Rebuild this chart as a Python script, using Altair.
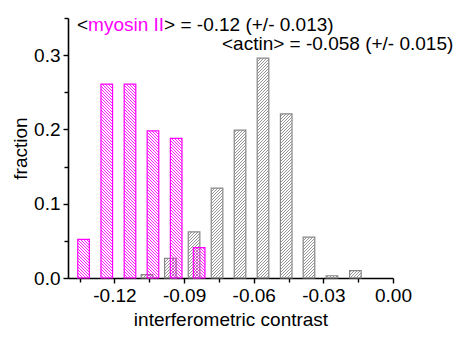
import math
import numpy as np
import pandas as pd
import altair as alt

# ---------------- data ----------------
myosin_x = [-0.1333, -0.1233, -0.1133, -0.1034, -0.0934, -0.0835]
myosin_f = [0.052, 0.261, 0.261, 0.198, 0.188, 0.041]
actin_x = [-0.1060, -0.0959, -0.0857, -0.0758, -0.0659, -0.0560, -0.0460, -0.0362, -0.0263, -0.0162]
actin_f = [0.0045, 0.0265, 0.062, 0.121, 0.199, 0.296, 0.221, 0.055, 0.003, 0.0098]

x_ticks = [-0.135, -0.12, -0.105, -0.09, -0.075, -0.06, -0.045, -0.03, -0.015, 0.0]
y_ticks = [0.0, 0.05, 0.1, 0.15, 0.2, 0.25, 0.3, 0.35]

label_lt = "<"
label_myosin = "myosin II"
label_myosin_rest = "> = -0.12 (+/- 0.013)"
label_actin = "<actin> = -0.058 (+/- 0.015)"
x_title = "interferometric contrast"
y_title = "fraction"

# ---------------- layout / style ----------------
W, H = 325, 260
XMIN, XMAX, YMAX = -0.14, 0.0, 0.35
BW = 0.005          # drawn bar width (data units)
SX = W / (XMAX - XMIN)
SY = H / YMAX
D = 3.0             # hatch spacing (px)
MAG = "#ff00ff"
GRAY = "#888888"
FONT = "Liberation Sans"
FS = 19


def bars_df(xs, fs):
    return pd.DataFrame({
        "xa": [c - BW / 2 for c in xs],
        "xb": [c + BW / 2 for c in xs],
        "ya": [0.0] * len(xs),
        "yb": fs,
    })


def hatch_df(xs, fs, direction):
    rows = []
    for c, v in zip(xs, fs):
        x0 = (c - BW / 2 - XMIN) * SX
        x1 = (c + BW / 2 - XMIN) * SX
        h = v * SY
        if direction == "/":
            kmin, kmax = math.floor((x0 - h) / D), math.ceil(x1 / D)
            for k in range(kmin, kmax + 1):
                a = k * D
                xl, xu = max(x0, a), min(x1, a + h)
                if xu - xl > 0.05:
                    rows.append((xl, xl - a, xu, xu - a))
        else:
            kmin, kmax = math.floor(x0 / D), math.ceil((x1 + h) / D)
            for k in range(kmin, kmax + 1):
                a = k * D
                xl, xu = max(x0, a - h), min(x1, a)
                if xu - xl > 0.05:
                    rows.append((xl, a - xl, xu, a - xu))
    arr = np.array(rows)
    return pd.DataFrame({
        "xa": XMIN + arr[:, 0] / SX,
        "ya": arr[:, 1] / SY,
        "xb": XMIN + arr[:, 2] / SX,
        "yb": arr[:, 3] / SY,
    })


x_axis = alt.Axis(
    values=x_ticks,
    labelExpr="abs(round(datum.value*1000)) % 30 == 0 ? ((datum.value < 0 ? '-' : '') + format(abs(datum.value), '.2f')) : ''",
    title=x_title, titleX=W / 2, titleY=47, titleBaseline="alphabetic", titleAlign="center",
    tickSize={"condition": {"test": "abs(round(datum.value*1000)) % 30 == 0", "value": 5}, "value": 4},
    labelPadding=3, labelFlush=False, labelOverlap=False, grid=False,
)
y_axis = alt.Axis(
    values=y_ticks,
    labelExpr="abs(round(datum.value*100)) % 10 == 0 ? format(datum.value, '.1f') : ''",
    title=y_title, titleX=-42, titleY=H / 2, titleAngle=270, titleBaseline="alphabetic",
    titleAlign="center",
    tickSize={"condition": {"test": "abs(round(datum.value*100)) % 10 == 0", "value": 5}, "value": 4},
    labelPadding=3, labelFlush=False, labelOverlap=False, grid=False,
)

xs = alt.Scale(domain=[XMIN, XMAX], nice=False, zero=False)
ys = alt.Scale(domain=[0, YMAX], nice=False, zero=False)


def enc(ch):
    return ch.encode(
        x=alt.X("xa:Q", scale=xs, axis=x_axis),
        x2="xb:Q",
        y=alt.Y("ya:Q", scale=ys, axis=y_axis),
        y2="yb:Q",
    )


actin_hatch = enc(alt.Chart(hatch_df(actin_x, actin_f, "/")).mark_rule(color=GRAY, strokeWidth=0.9))
actin_bars = enc(alt.Chart(bars_df(actin_x, actin_f)).mark_rect(fillOpacity=0, stroke=GRAY, strokeWidth=1.2))
myo_hatch = enc(alt.Chart(hatch_df(myosin_x, myosin_f, "\\")).mark_rule(color=MAG, strokeWidth=0.9))
myo_bars = enc(alt.Chart(bars_df(myosin_x, myosin_f)).mark_rect(fillOpacity=0, stroke=MAG, strokeWidth=1.2))


def txt(s, px, py, color):
    return alt.Chart(pd.DataFrame({"t": [s]})).mark_text(
        align="left", baseline="alphabetic", font=FONT, fontSize=FS, color=color
    ).encode(text="t:N", x=alt.value(px), y=alt.value(py))


t1 = txt(label_lt, 9, 13, "black")
t2 = txt(label_myosin, 9 + 0.584 * FS, 13, MAG)
t3 = txt(label_myosin_rest, 9 + 0.584 * FS + 4.001 * FS, 13, "black")
t4 = txt(label_actin, 154, 32, "black")

chart = alt.layer(actin_hatch, actin_bars, myo_hatch, myo_bars, t1, t2, t3, t4).properties(
    width=W, height=H,
    autosize=alt.AutoSizeParams(type="none"),
    padding={"left": 60, "top": 10, "right": 61, "bottom": 51},
).configure_view(strokeWidth=0).configure_axis(
    domainColor="black", domainWidth=1.6, tickColor="black", tickWidth=1.4,
    labelColor="black", titleColor="black",
    labelFont=FONT, labelFontSize=FS, titleFont=FONT, titleFontSize=FS, titleFontWeight="normal",
)

chart.save("out.html", embed_options={"renderer": "svg", "actions": False})
